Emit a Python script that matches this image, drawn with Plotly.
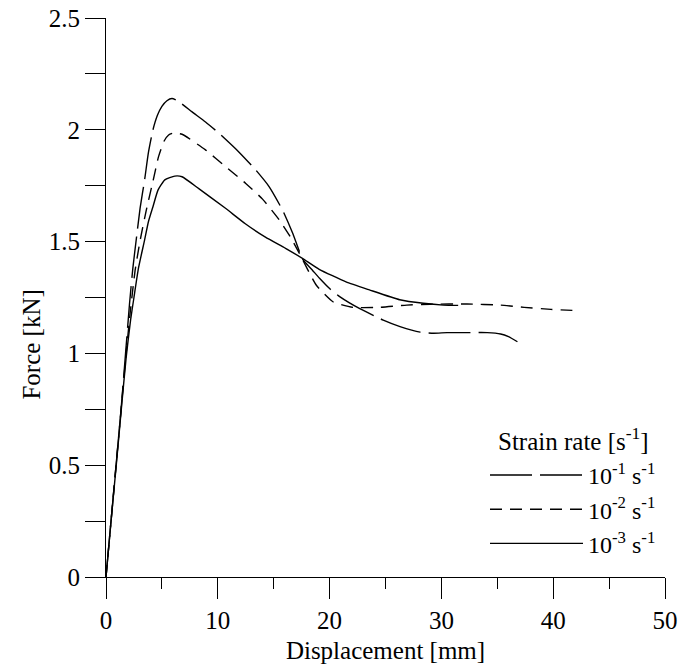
import plotly.graph_objects as go

# Displacement [mm] / Force [kN]
x1 = [0, 0.45, 0.9, 1.35, 1.75, 2.1, 2.4, 2.7, 3.05, 3.45, 3.8, 4.2, 4.6, 5.0, 5.45, 5.9, 6.4,
      7.7, 8.9, 10.1, 11.9, 13.4, 14.6, 15.8, 16.7, 17.6, 18.5, 19.1, 20.0, 20.9, 22.7, 24.8,
      26.3, 28.1, 29.3, 30.5, 32.3, 34.1, 35.3, 36.0, 36.8]
y1 = [0, 0.25, 0.5, 0.75, 1.0, 1.22, 1.38, 1.507, 1.65, 1.775, 1.9, 2.0, 2.065, 2.105, 2.13, 2.14, 2.13,
      2.08, 2.035, 1.985, 1.90, 1.82, 1.745, 1.64, 1.537, 1.42, 1.37, 1.336, 1.29, 1.254, 1.20, 1.149,
      1.12, 1.095, 1.09, 1.093, 1.093, 1.093, 1.087, 1.075, 1.052]

x2 = [0, 0.45, 0.9, 1.35, 1.8, 2.2, 2.6, 3.06, 3.6, 4.2, 4.7, 5.2, 5.6, 6.0, 6.8, 8.9, 10.7,
      12.5, 14.0, 15.5, 16.5, 17.3, 18.8, 20.3, 22.1, 24.5, 26.9, 29.0, 32.3, 35.3, 37.4, 39.8, 42.3]
y2 = [0, 0.25, 0.5, 0.75, 1.0, 1.2, 1.37, 1.507, 1.64, 1.77, 1.88, 1.95, 1.977, 1.985, 1.98, 1.91, 1.835,
      1.76, 1.69, 1.597, 1.52, 1.447, 1.306, 1.231, 1.206, 1.206, 1.216, 1.22, 1.221, 1.216, 1.206, 1.197, 1.191]

x3 = [0, 0.45, 0.9, 1.36, 1.8, 2.2, 2.5, 2.9, 3.45, 3.8, 4.2, 4.65, 5.26, 6.15, 6.8, 8.3,
      10.66, 12.46, 14.26, 16.06, 17.57, 19.07, 21.47, 23.56, 26.27, 28.38, 30.18, 31.5]
y3 = [0, 0.25, 0.49, 0.745, 0.98, 1.15, 1.25, 1.38, 1.507, 1.59, 1.656, 1.73, 1.776, 1.793, 1.79, 1.737,
      1.65, 1.58, 1.52, 1.47, 1.425, 1.376, 1.32, 1.284, 1.24, 1.224, 1.216, 1.215]

names = ["10<sup>-1</sup> s<sup>-1</sup>", "10<sup>-2</sup> s<sup>-1</sup>", "10<sup>-3</sup> s<sup>-1</sup>"]
legend_title = "Strain rate [s<sup>-1</sup>]"
dashes = ["42px,8px", "12px,8px", "solid"]

FONT = "Liberation Serif"

fig = go.Figure()
for i, (xs, ys) in enumerate([(x1, y1), (x2, y2), (x3, y3)]):
    fig.add_trace(go.Scatter(
        x=xs, y=ys, mode="lines", name=names[i], legendgroup=f"g{i}",
        line=dict(color="black", width=1.4, dash=dashes[i], shape="spline", smoothing=0.5),
    ))

axis_common = dict(
    showgrid=False, zeroline=False, showline=True, linecolor="black", linewidth=1.2,
    ticks="outside", tickcolor="black", tickwidth=1.2, automargin=False,
    tickfont=dict(family=FONT, size=25, color="black"),
)

fig.update_xaxes(
    range=[0, 50], dtick=10, tick0=0, ticklen=21,
    minor=dict(dtick=5, ticks="outside", ticklen=11, tickcolor="black", tickwidth=1.2),
    title=dict(text="Displacement [mm]", font=dict(family=FONT, size=25, color="black"), standoff=8),
    **axis_common,
)
fig.update_yaxes(
    range=[0, 2.5], dtick=0.5, tick0=0, ticklen=20,
    minor=dict(dtick=0.25, ticks="outside", ticklen=20, tickcolor="black", tickwidth=1.2),
    **axis_common,
)

fig.add_annotation(
    text="Force [kN]", textangle=-90, xref="paper", yref="paper",
    x=-0.135, y=0.415, showarrow=False, xanchor="center", yanchor="middle",
    font=dict(family=FONT, size=25, color="black"),
)
fig.add_annotation(
    text=legend_title, xref="paper", yref="paper",
    x=0.6985, y=0.246, showarrow=False, xanchor="left", yanchor="middle",
    font=dict(family=FONT, size=25, color="black"),
)

fig.update_layout(
    width=680, height=666,
    margin=dict(l=106, r=15, t=18, b=89),
    paper_bgcolor="white", plot_bgcolor="white",
    font=dict(family=FONT, size=25, color="black"),
    showlegend=True,
    legend=dict(
        x=0.678, y=0.222, xanchor="left", yanchor="top",
        bgcolor="rgba(0,0,0,0)", itemwidth=93, tracegroupgap=0,
        font=dict(family=FONT, size=24, color="black"),
    ),
)

fig.write_html("out.html")
